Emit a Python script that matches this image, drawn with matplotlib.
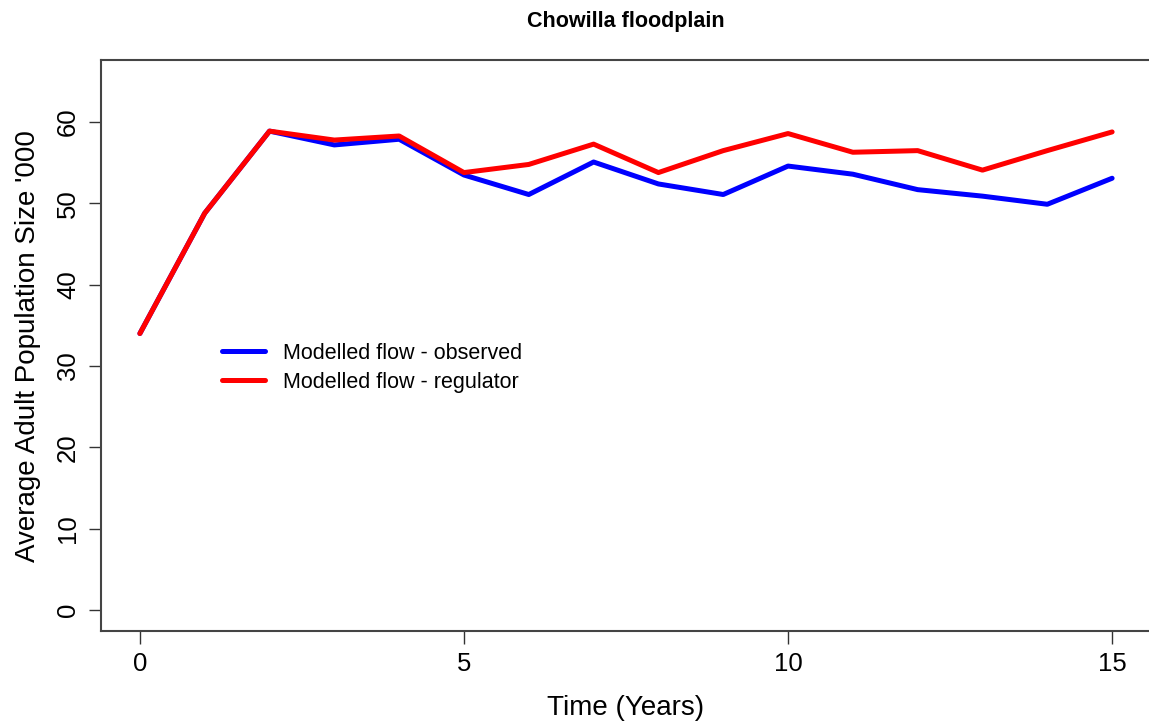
import matplotlib
matplotlib.use("Agg")
import matplotlib.pyplot as plt

years = list(range(16))
observed = [34.0, 48.8, 58.9, 57.2, 57.9, 53.5, 51.1, 55.1, 52.4, 51.1,
            54.6, 53.6, 51.7, 50.9, 49.9, 53.1]
regulator = [34.0, 48.8, 58.9, 57.8, 58.3, 53.8, 54.8, 57.3, 53.8, 56.5,
             58.6, 56.3, 56.5, 54.1, 56.5, 58.8]
x_ticks = [0, 5, 10, 15]
y_ticks = [0, 10, 20, 30, 40, 50, 60]

plt.rcParams["font.family"] = ["Liberation Sans", "DejaVu Sans"]

W, H = 1149, 724
fig = plt.figure(figsize=(W / 100, H / 100), dpi=100)
# axes box in pixels (R-style plot region, right edge runs just past the image)
left, right, top, bottom = 101, 1151, 60.4, 631
ax = fig.add_axes([left / W, 1 - bottom / H, (right - left) / W, (bottom - top) / H])

ax.plot(years, observed, color="#0000ff", lw=3.6, solid_capstyle="round",
        solid_joinstyle="round", label="Modelled flow - observed")
ax.plot(years, regulator, color="#ff0000", lw=3.6, solid_capstyle="round",
        solid_joinstyle="round", label="Modelled flow - regulator")

ax.set_xlim(-0.6, 15.6)
ax.set_ylim(-2.6, 67.6)
ax.set_xticks(x_ticks)
ax.set_yticks(y_ticks)
ax.tick_params(axis="both", length=9, width=1, color="#333333",
               labelsize=18.5, pad=6)
for lab in ax.get_yticklabels():
    lab.set_rotation(90)
    lab.set_va("center")
for s in ax.spines.values():
    s.set_color("#444444")
    s.set_linewidth(1.5)

ax.set_xlabel("Time (Years)", fontsize=20, labelpad=14)
ax.set_ylabel("Average Adult Population Size '000", fontsize=20, labelpad=11)
fig.text(0.5 * (left + right) / W, 1 - 21 / H, "Chowilla floodplain",
         ha="center", va="center", fontsize=15.5, fontweight="bold")

ax.legend(loc="upper left", bbox_to_anchor=(222 / W, 1 - 343 / H),
          bbox_transform=fig.transFigure, frameon=False, fontsize=15.5,
          borderpad=0, borderaxespad=0, handlelength=2.0, handletextpad=0.84,
          labelspacing=0.35)

fig.savefig("out.png", dpi=100)
